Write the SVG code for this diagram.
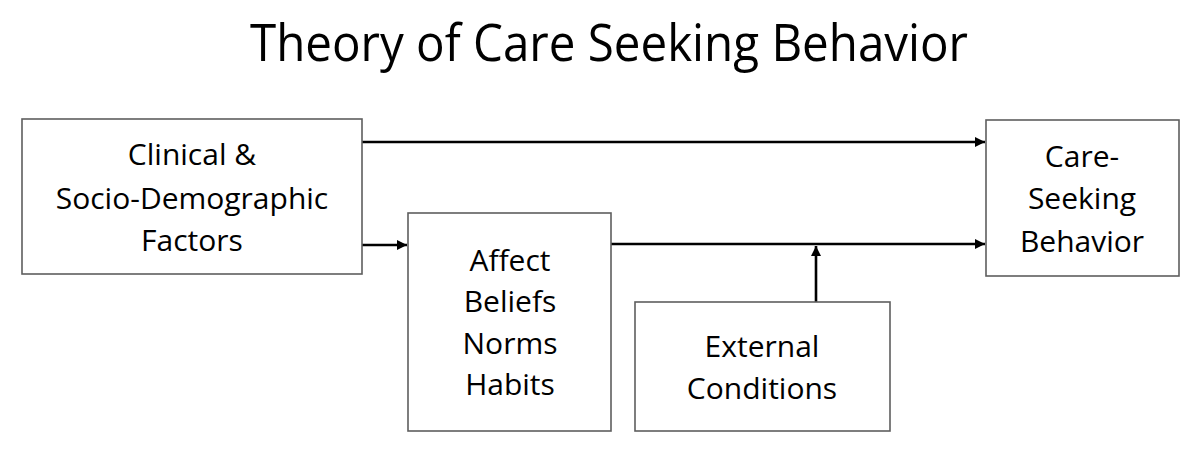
<svg xmlns="http://www.w3.org/2000/svg" width="1200" height="452" viewBox="0 0 1200 452">
<style>
.box{fill:#fff;stroke:#5e5e5e;stroke-width:1.6}
.t{font-family:"Open Sans","Liberation Sans",sans-serif;font-size:30px;fill:#000;text-anchor:middle}
.title{font-family:"Open Sans","Liberation Sans",sans-serif;font-size:52px;fill:#000;text-anchor:middle}
.c{stroke:#000;stroke-width:2.6;fill:none;marker-end:url(#ah)}
</style>
<defs>
<marker id="ah" viewBox="0 0 10 10" refX="10" refY="5" markerWidth="4" markerHeight="4" orient="auto" markerUnits="strokeWidth">
<path d="M0,0 L10,5 L0,10 z" fill="#000"/>
</marker>
</defs>
<rect width="1200" height="452" fill="#fff"/>
<text class="title" x="609" y="61" textLength="718" lengthAdjust="spacingAndGlyphs">Theory of Care Seeking Behavior</text>
<g id="connectors">
<line class="c" x1="362" y1="142" x2="985" y2="142"/>
<line class="c" x1="362" y1="245" x2="407" y2="245"/>
<line class="c" x1="611" y1="244" x2="985" y2="244"/>
<line class="c" x1="816" y1="302" x2="816" y2="246"/>
</g>
<g id="clinical">
<rect class="box" x="22" y="119" width="340" height="155"/>
<text class="t" x="192" y="165">Clinical &amp;</text>
<text class="t" x="192" y="209">Socio-Demographic</text>
<text class="t" x="192" y="251">Factors</text>
</g>
<g id="affect">
<rect class="box" x="408" y="213" width="203" height="218"/>
<text class="t" x="510" y="271">Affect</text>
<text class="t" x="510" y="312">Beliefs</text>
<text class="t" x="510" y="354">Norms</text>
<text class="t" x="510" y="395">Habits</text>
</g>
<g id="external">
<rect class="box" x="635" y="302" width="255" height="129"/>
<text class="t" x="762" y="357">External</text>
<text class="t" x="762" y="399">Conditions</text>
</g>
<g id="care">
<rect class="box" x="986" y="120" width="193" height="156"/>
<text class="t" x="1082" y="167">Care-</text>
<text class="t" x="1082" y="209">Seeking</text>
<text class="t" x="1082" y="252">Behavior</text>
</g>
</svg>
